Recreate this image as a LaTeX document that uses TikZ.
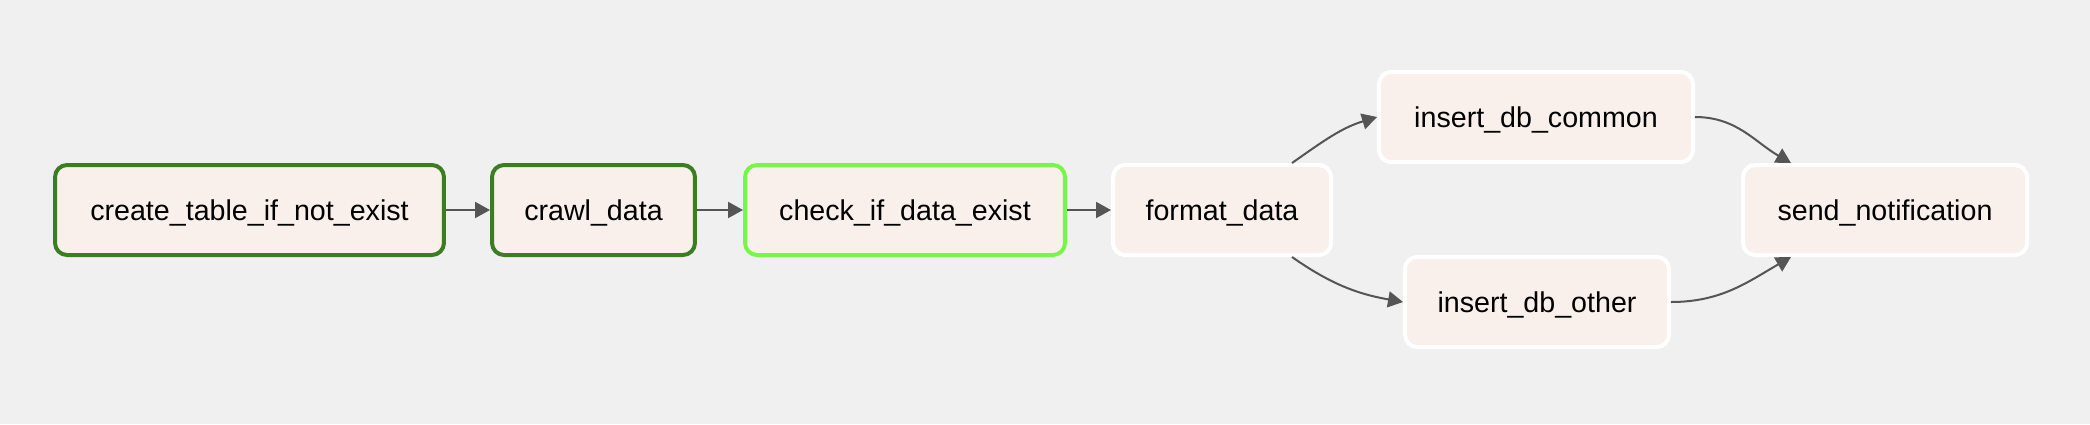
\documentclass[tikz,border=0pt]{standalone}
\usepackage{fontspec}
\setmainfont{Liberation Sans}
\usetikzlibrary{arrows.meta}
\definecolor{pageBg}{HTML}{F0F0F0}
\definecolor{taskFill}{HTML}{F9F0EC}
\definecolor{doneGreen}{HTML}{3C7D23}
\definecolor{liveGreen}{HTML}{77F64A}
\definecolor{edgeGrey}{HTML}{555555}
\begin{document}
\begin{tikzpicture}
[x=0.02cm,y=-0.02cm,
  taskDecorate/.style={shape=rectangle,rounded corners=0.24cm,draw=white,
    line width=0.08cm,fill=taskFill,inner sep=0pt,minimum height=1.8cm,
    text height=15.3pt,text depth=3.4pt,
    font=\fontsize{16.3}{19}\selectfont},
  lineDecorate/.style={draw=edgeGrey,line width=0.04cm,
    -{Triangle[length=0.3cm,width=0.32cm]}}]
\useasboundingbox[fill=pageBg] (0,0) rectangle (2090,424);
%% tasks
\foreach \nodename/\x/\y/\w/\txt in {
  create/249.5/210/7.78/create\_table\_if\_not\_exist,
  crawl/593.5/210/4.06/crawl\_data,
  check/905/210/6.4/check\_if\_data\_exist,
  format/1222/210/4.36/format\_data,
  common/1536/117/6.28/insert\_db\_common,
  other/1537/302/5.28/insert\_db\_other,
  send/1885/210/5.68/send\_notification}
{
  \node (\nodename) at (\x,\y) [taskDecorate,minimum width=\w cm] {\txt};
}
%% task states
\node at (create) [taskDecorate,draw=doneGreen,fill=none,minimum width=7.78cm] {};
\node at (crawl) [taskDecorate,draw=doneGreen,fill=none,minimum width=4.06cm] {};
\node at (check) [taskDecorate,draw=liveGreen,fill=none,minimum width=6.4cm] {};
%% dependencies
\path
\foreach \startnode/\endnode in {create/crawl, crawl/check, check/format}
{
  (\startnode) edge[lineDecorate] (\endnode)
};
\draw[lineDecorate] ([xshift=1.4cm]format.north) to[out=35,in=197] (common.west);
\draw[lineDecorate] ([xshift=1.4cm]format.south) to[out=-35,in=170] (other.west);
\draw[lineDecorate] (common.east) to[out=0,in=150] ([xshift=-1.88cm]send.north);
\draw[lineDecorate] (other.east) to[out=0,in=210] ([xshift=-1.88cm]send.south);
\end{tikzpicture}
\end{document}
